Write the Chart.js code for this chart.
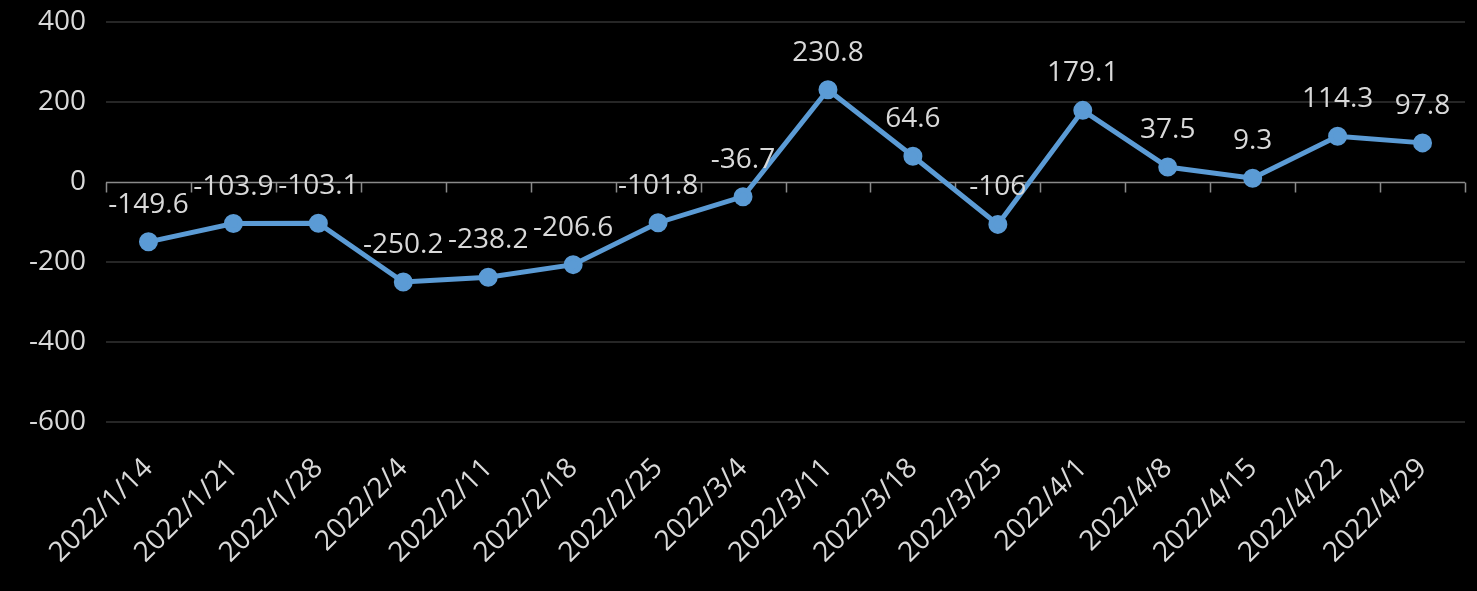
<!DOCTYPE html>
<html>
<head>
<meta charset="utf-8">
<script src="https://cdn.jsdelivr.net/npm/chart.js@4"></script>
<style>
  html, body { margin: 0; padding: 0; background: #000; }
  #wrap { width: 1477px; height: 591px; }
</style>
</head>
<body>
<div id="wrap"><canvas id="chart"></canvas></div>
<script>
// --- Data ---
const dates = ['2022/1/14', '2022/1/21', '2022/1/28', '2022/2/4', '2022/2/11', '2022/2/18',
  '2022/2/25', '2022/3/4', '2022/3/11', '2022/3/18', '2022/3/25', '2022/4/1',
  '2022/4/8', '2022/4/15', '2022/4/22', '2022/4/29'];
const values = [-149.6, -103.9, -103.1, -250.2, -238.2, -206.6,
  -101.8, -36.7, 230.8, 64.6, -106, 179.1,
  37.5, 9.3, 114.3, 97.8];

const FONT = '"Open Sans", "Noto Sans", sans-serif';
const TEXT = '#d9d9d9';

// zero line with small ticks at category boundaries
const zeroAxis = {
    id: 'zeroAxis',
    beforeDatasetsDraw(chart) {
        const ctx = chart.ctx, x = chart.scales.x, y = chart.scales.y;
        const y0 = Math.round(y.getPixelForValue(0)) + 0.5;
        ctx.save();
        ctx.strokeStyle = '#8a8a8a';
        ctx.lineWidth = 1.5;
        ctx.beginPath();
        ctx.moveTo(chart.chartArea.left, y0);
        ctx.lineTo(chart.chartArea.right, y0);
        for (let i = 0; i <= dates.length; i++) {
            const px = Math.round(x.getPixelForValue(i - 0.5)) + 0.5;
            ctx.moveTo(px, y0);
            ctx.lineTo(px, y0 + 10);
        }
        ctx.stroke();
        ctx.restore();
    }
};

// value labels above each point
const valueLabels = {
    id: 'valueLabels',
    afterDraw(chart) {
        const ctx = chart.ctx;
        const meta = chart.getDatasetMeta(0);
        ctx.save();
        ctx.font = '28px ' + FONT;
        ctx.fillStyle = TEXT;
        ctx.textAlign = 'center';
        ctx.textBaseline = 'middle';
        meta.data.forEach((pt, i) => {
            ctx.fillText(String(values[i]), pt.x, pt.y - 37);
        });
        ctx.restore();
    }
};

new Chart(document.getElementById('chart'), {
    type: 'line',
    data: {
        labels: dates,
        datasets: [{
            data: values,
            borderColor: '#5b9bd5',
            backgroundColor: '#5b9bd5',
            borderWidth: 5,
            pointRadius: 7,
            pointHoverRadius: 7,
            tension: 0
        }]
    },
    options: {
        responsive: true,
        maintainAspectRatio: false,
        animation: false,
        layout: { padding: { top: 22, right: 9, left: 0, bottom: 0 } },
        plugins: { legend: { display: false }, tooltip: { enabled: false } },
        scales: {
            x: {
                offset: true,
                grid: { display: false },
                border: { display: false },
                ticks: {
                    color: TEXT,
                    font: { family: FONT, size: 28 },
                    minRotation: 45,
                    maxRotation: 45,
                    autoSkip: false,
                    padding: 22
                },
                afterFit: s => { s.height = 169; }
            },
            y: {
                min: -600,
                max: 400,
                grid: {
                    color: ctx => ctx.tick.value === 0 ? 'rgba(0,0,0,0)' : '#262626',
                    lineWidth: 2,
                    drawTicks: false
                },
                border: { display: false },
                ticks: {
                    stepSize: 200,
                    color: TEXT,
                    font: { family: FONT, size: 28 },
                    padding: 20
                },
                afterFit: s => { s.width = 106; s.paddingTop = 0; s.paddingBottom = 0; }
            }
        }
    },
    plugins: [zeroAxis, valueLabels]
});
</script>
</body>
</html>
